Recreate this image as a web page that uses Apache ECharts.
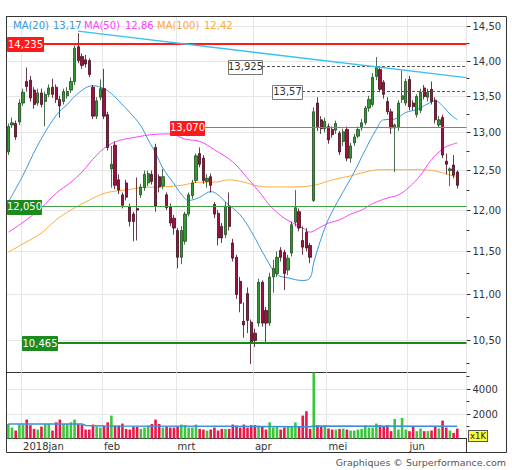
<!DOCTYPE html>
<html><head><meta charset="utf-8">
<script src="https://cdn.jsdelivr.net/npm/echarts@6/dist/echarts.min.js"></script>
<style>html,body{margin:0;padding:0;background:#fff}#c{width:512px;height:470px}</style>
</head><body><div id="c"></div>
<script>
// ---------- DATA ----------
const dates = [
'2017-12-22','2017-12-27','2017-12-28','2017-12-29',
'2018-01-02','2018-01-03','2018-01-04','2018-01-05','2018-01-08','2018-01-09','2018-01-10','2018-01-11','2018-01-12','2018-01-15','2018-01-16','2018-01-17','2018-01-18','2018-01-19','2018-01-22','2018-01-23','2018-01-24','2018-01-25','2018-01-26','2018-01-29','2018-01-30','2018-01-31',
'2018-02-01','2018-02-02','2018-02-05','2018-02-06','2018-02-07','2018-02-08','2018-02-09','2018-02-12','2018-02-13','2018-02-14','2018-02-15','2018-02-16','2018-02-19','2018-02-20','2018-02-21','2018-02-22','2018-02-23','2018-02-26','2018-02-27','2018-02-28',
'2018-03-01','2018-03-02','2018-03-05','2018-03-06','2018-03-07','2018-03-08','2018-03-09','2018-03-12','2018-03-13','2018-03-14','2018-03-15','2018-03-16','2018-03-19','2018-03-20','2018-03-21','2018-03-22','2018-03-23','2018-03-26','2018-03-27','2018-03-28','2018-03-29',
'2018-04-03','2018-04-04','2018-04-05','2018-04-06','2018-04-09','2018-04-10','2018-04-11','2018-04-12','2018-04-13','2018-04-16','2018-04-17','2018-04-18','2018-04-19','2018-04-20','2018-04-23','2018-04-24','2018-04-25','2018-04-26','2018-04-27','2018-04-30',
'2018-05-02','2018-05-03','2018-05-04','2018-05-07','2018-05-08','2018-05-09','2018-05-10','2018-05-11','2018-05-14','2018-05-15','2018-05-16','2018-05-17','2018-05-18','2018-05-21','2018-05-22','2018-05-23','2018-05-24','2018-05-25','2018-05-28','2018-05-29','2018-05-30','2018-05-31',
'2018-06-01','2018-06-04','2018-06-05','2018-06-06','2018-06-07','2018-06-08','2018-06-11','2018-06-12','2018-06-13','2018-06-14','2018-06-15','2018-06-18','2018-06-19','2018-06-20',
'pad1','pad2'];
const monthLabels = {'2018-01':'2018jan','2018-02':'feb','2018-03':'mrt','2018-04':'apr','2018-05':'mei','2018-06':'jun'};

const opens = [12.74,13.10,13.12,13.14,13.40,13.70,13.72,13.58,13.40,13.54,13.42,13.52,13.62,13.62,13.45,13.42,13.50,13.58,13.70,14.20,
14.06,14.01,14.00,13.62,13.22,13.48,13.60,13.24,12.52,12.83,12.38,12.19,12.34,12.04,11.95,12.02,12.19,12.28,12.34,12.45,
12.80,12.42,12.30,12.19,12.04,11.90,11.75,11.43,11.62,11.95,12.18,12.37,12.72,12.66,12.36,12.42,12.07,11.96,11.80,11.70,
12.05,11.60,11.43,11.15,10.70,11.01,10.69,10.57,10.68,11.14,10.82,10.68,11.20,11.24,11.51,11.49,11.28,11.48,11.85,11.98,
11.63,11.73,11.57,12.12,13.40,13.17,13.05,13.08,13.04,13.03,12.99,12.88,13.04,12.66,12.86,12.95,13.06,13.13,13.33,13.38,
13.77,13.87,13.69,13.42,13.28,13.06,13.08,13.45,13.40,13.73,13.40,13.24,13.30,13.61,13.48,13.59,13.44,13.10,13.20,12.62,
12.50,12.57,12.48];
const highs = [13.12,13.20,13.16,13.45,13.60,13.90,13.78,13.62,13.60,13.60,13.56,13.66,13.74,13.66,13.50,13.60,13.62,13.76,14.22,14.40,
14.10,14.08,14.03,13.65,13.48,13.73,13.88,13.28,12.82,12.88,12.45,12.22,12.38,12.08,11.98,12.41,12.33,12.50,12.50,12.50,
12.85,12.45,12.52,12.22,12.08,11.94,11.78,11.80,11.98,12.22,12.38,12.72,12.80,12.70,12.45,12.46,12.10,12.00,11.84,12.10,
12.22,11.65,11.46,11.20,10.91,11.08,10.72,10.62,11.18,11.16,10.86,11.25,11.40,11.50,11.55,11.52,11.46,11.86,12.25,12.02,
11.80,11.78,11.60,13.34,13.48,13.22,13.20,13.12,13.08,13.16,13.02,13.05,13.08,12.86,12.98,13.08,13.18,13.36,13.50,13.82,
14.05,13.92,13.72,13.48,13.32,13.12,13.44,13.86,13.74,13.78,13.44,13.52,13.60,13.65,13.60,13.70,13.48,13.22,13.24,12.72,
12.54,12.70,12.50];
const lows = [12.70,13.06,12.90,13.10,13.36,13.56,13.42,13.32,13.36,13.34,13.08,13.48,13.47,13.40,13.20,13.38,13.46,13.54,13.65,13.96,
13.88,13.90,13.76,13.18,13.18,13.44,13.18,12.76,12.28,12.26,12.20,12.02,12.12,11.80,11.62,11.63,12.15,12.24,12.30,12.32,
11.98,12.22,12.26,12.00,11.80,11.70,11.30,11.35,11.58,11.92,12.14,12.34,12.54,12.33,12.28,12.22,11.90,11.57,11.60,11.66,
11.75,11.38,10.95,10.80,10.52,10.57,10.24,10.42,10.64,10.64,10.47,10.65,11.02,11.20,11.38,11.05,11.22,11.44,11.80,11.74,
11.46,11.50,11.36,12.10,13.02,12.98,13.00,12.85,12.93,12.98,12.70,12.82,12.62,12.60,12.82,12.92,13.02,13.10,13.28,13.35,
13.72,13.55,13.46,13.24,12.98,12.48,13.02,13.40,13.36,13.30,13.30,13.20,13.26,13.45,13.42,13.38,13.12,13.06,12.66,12.45,
12.30,12.40,12.27];
const closes = [13.08,13.13,12.94,13.40,13.55,13.63,13.47,13.38,13.54,13.38,13.52,13.61,13.52,13.45,13.36,13.56,13.56,13.70,14.18,14.00,
13.93,13.95,13.80,13.22,13.43,13.60,13.22,12.80,12.58,12.31,12.25,12.06,12.16,11.86,11.86,12.00,12.29,12.45,12.46,12.36,
12.05,12.29,12.42,12.03,11.84,11.78,11.43,11.75,11.95,12.19,12.34,12.69,12.58,12.37,12.40,12.31,11.95,11.66,11.66,12.05,
11.80,11.42,11.00,10.90,10.66,10.71,10.46,10.49,11.14,10.68,10.68,11.20,11.30,11.43,11.43,11.24,11.42,11.82,12.03,11.78,
11.55,11.54,11.43,13.28,13.08,13.05,13.15,12.90,12.97,13.12,12.74,13.01,12.66,12.82,12.94,13.04,13.13,13.33,13.45,13.76,
13.90,13.59,13.52,13.28,13.06,13.10,13.40,13.50,13.70,13.35,13.35,13.49,13.55,13.49,13.55,13.42,13.17,13.17,12.70,12.58,
12.52,12.44,12.31];
const volumes = [1170,880,640,1120,1120,1520,1070,770,720,960,1170,1170,640,1300,1520,1170,1170,1300,1520,1170,
1120,720,720,1120,960,880,1040,1300,1840,1040,1040,1200,770,720,930,930,770,880,1040,1170,
1520,1170,880,960,880,880,960,1120,1070,880,880,1120,770,720,640,720,880,640,770,770,
770,1120,1040,880,1120,880,1070,1070,1040,990,720,1300,880,990,720,880,990,990,1300,990,
1840,2190,770,6500,1070,990,1040,800,720,720,770,800,720,640,640,720,770,1040,880,880,
1200,1070,990,1070,590,1570,720,1650,720,590,960,590,800,590,590,640,960,800,1440,880,
640,450,800];

const ma20 = [[0,12.10],[4,12.44],[8,12.83],[13,13.23],[16,13.38],[18,13.49],[21,13.61],[23,13.64],[26,13.60],[28,13.53],[30,13.43],[33,13.27],[36,13.09],[38,12.90],[40,12.73],[42,12.53],[45,12.33],[47,12.20],[49,12.12],[52,12.16],[55,12.23],[57,12.19],[59,12.10],[63,11.94],[66,11.74],[70,11.42],[73,11.23],[76,11.19],[80,11.16],[82,11.19],[83,11.37],[86,11.78],[88,11.98],[91,12.23],[94,12.48],[97,12.77],[100,13.04],[102,13.17],[105,13.18],[108,13.27],[111,13.31],[114,13.39],[116,13.43],[118,13.36],[120,13.25],[122,13.17]];
const ma50 = [[0,11.73],[4,11.85],[9,12.03],[13,12.21],[17,12.35],[20,12.48],[24,12.70],[27,12.82],[30,12.89],[35,12.94],[39,12.97],[44,12.98],[48,12.91],[52,12.88],[56,12.77],[61,12.61],[65,12.40],[69,12.18],[71,12.06],[75,11.90],[80,11.78],[82,11.73],[84,11.77],[87,11.84],[90,11.88],[93,11.95],[96,12.00],[99,12.08],[103,12.15],[106,12.19],[109,12.29],[112,12.44],[115,12.64],[118,12.78],[120,12.83],[122,12.86]];
const ma100 = [[0,11.49],[4,11.59],[9,11.72],[13,11.88],[17,12.00],[21,12.10],[25,12.19],[28,12.23],[32,12.25],[36,12.28],[42,12.29],[47,12.31],[52,12.35],[56,12.35],[60,12.38],[64,12.35],[68,12.30],[72,12.29],[78,12.29],[83,12.31],[86,12.35],[89,12.39],[93,12.43],[97,12.48],[101,12.51],[106,12.51],[111,12.51],[115,12.50],[118,12.47],[120,12.44],[122,12.42]];
const volMa = [[0,1170],[20,1170],[21,1040],[26,1000],[60,980],[82,950],[83,1000],[122,990]];
const trendLine = [[18.9,14.43],[124.5,13.755]];

const maNames = ['MA(20)','MA(50)','MA(100)'];
const maLast = ['13,17','12,86','12,42'];

const priceTicks = [10.5,11,11.5,12,12.5,13,13.5,14,14.5];
const priceTickLabels = ['10,50','11,00','11,50','12,00','12,50','13,00','13,50','14,00','14,50'];
const priceMinorTicks = [10.25,10.75,11.25,11.75,12.25,12.75,13.25,13.75,14.25];
const volTicks = [1000,2000,3000,4000,5000];
const volTickLabels = ['','2000','','4000',''];

const levelValues = [14.235,13.07,12.05,10.465,13.925,13.57];
const levelLabels = ['14,235','13,070','12,050','10,465','13,925','13,57'];

// ---------- STYLE / LAYOUT ----------
const FONT = 'DejaVu Sans';
const N = dates.length;
const UP = '#2f9a2f', DOWN = '#a3103c';
const VUP = '#3cc63c', VDOWN = '#e8184b';
const GRIDC = '#e6e6e6';
const levelStyles = [
  {line:'#ff1a1a', w:2, dash:null, box:0,   bw:36, bg:'#ff1a1a', border:null,   txt:'#fff', from:'left'},
  {line:'#ff4a4a', w:1, dash:null, box:163, bw:34, bg:'#ff1a1a', border:null,   txt:'#fff', from:'box'},
  {line:'#44a044', w:1, dash:null, box:0,   bw:34, bg:'#1c8a1c', border:null,   txt:'#fff', from:'left'},
  {line:'#148c14', w:2, dash:null, box:15,  bw:35, bg:'#1c8a1c', border:null,   txt:'#fff', from:'box'},
  {line:'#555',    w:1, dash:[3,2], box:221, bw:34, bg:'#fff',   border:'#777', txt:'#333', from:'box'},
  {line:'#555',    w:1, dash:[3,2], box:265, bw:30, bg:'#fff',   border:'#777', txt:'#333', from:'box'}
];

const ym = i => (dates[i] || '').slice(0,7);
const isMonthStart = i => i > 0 && !!monthLabels[ym(i)] && ym(i) !== ym(i-1);

const candleData = opens.map((o,i) => [o, closes[i], lows[i], highs[i]]);
const volData = volumes.map((v,i) => ({value:v, itemStyle:{color: closes[i] >= opens[i] ? VUP : VDOWN}}));

function txtStyle(o){
  if (o.align){ o.textAlign = o.align; }
  if (o.verticalAlign){ o.textVerticalAlign = o.verticalAlign; }
  return o;
}

function renderPriceTick(params, api){
  const v = api.value(1), major = api.value(2), li = api.value(3);
  const cs = params.coordSys;
  const y = Math.round(api.coord([0, v])[1]) + 0.5;
  const xr = Math.round(cs.x + cs.width) - 0.5;
  const ch = [{type:'line', shape:{x1:xr, y1:y, x2:xr + (major ? 4 : 3), y2:y}, style:{stroke:'#333', lineWidth:1}}];
  if (major) {
    ch.push({type:'line', shape:{x1:cs.x, y1:y, x2:xr, y2:y}, style:{stroke:GRIDC, lineWidth:1}});
    ch.push({type:'text', style:txtStyle({text:priceTickLabels[li], x:xr + 6, y:y, fill:'#333', fontSize:10, fontFamily:FONT, align:'left', verticalAlign:'middle'})});
  }
  return {type:'group', children:ch};
}

function renderVolTick(params, api){
  const v = api.value(1), li = api.value(2);
  const cs = params.coordSys;
  const y = Math.round(api.coord([0, v])[1]) + 0.5;
  const xr = Math.round(cs.x + cs.width) - 0.5;
  const lab = volTickLabels[li];
  const ch = [{type:'line', shape:{x1:xr, y1:y, x2:xr + (lab ? 4 : 3), y2:y}, style:{stroke:'#333', lineWidth:1}}];
  if (lab) {
    ch.push({type:'line', shape:{x1:cs.x, y1:y, x2:xr, y2:y}, style:{stroke:GRIDC, lineWidth:1}});
    ch.push({type:'text', style:txtStyle({text:lab, x:xr + 6, y:y, fill:'#333', fontSize:10, fontFamily:FONT, align:'left', verticalAlign:'middle'})});
  }
  return {type:'group', children:ch};
}

function renderLevel(params, api){
  const v = api.value(1), k = api.value(2);
  const st = levelStyles[k];
  const cs = params.coordSys;
  const y = Math.round(api.coord([0, v])[1]) + (st.w === 1 ? 0.5 : 0);
  const bx = Math.round(cs.x + st.box), bh = 14;
  const x0 = st.from === 'box' ? bx + st.bw : cs.x;
  return {type:'group', children:[
    {type:'line', shape:{x1:x0, y1:y, x2:cs.x + cs.width, y2:y}, style:{stroke:st.line, lineWidth:st.w, lineDash:st.dash}},
    {type:'rect', shape:{x:bx + 0.5, y:Math.round(y - bh/2) + 0.5, width:st.bw, height:bh}, style:{fill:st.bg, stroke:st.border || st.bg, lineWidth:1}},
    {type:'text', style:txtStyle({text:levelLabels[k], x:bx + st.bw/2 + 0.5, y:y, fill:st.txt, fontSize:10, fontFamily:FONT, align:'center', verticalAlign:'middle'})}
  ]};
}

const tickData = priceTicks.map((v,i) => [0, v, 1, i]).concat(priceMinorTicks.map(v => [0, v, 0, -1]));
const volTickData = volTicks.map((v,i) => [0, v, i]);
const levelData = levelValues.map((v,i) => [0, v, i]);

const legendX = [[13,53],[84,125],[157,204]];
const legendColors = ['#3399dd','#ff3cff','#ffa733'];
const graphics = [];
maNames.forEach((n,i) => {
  graphics.push({type:'text', x:legendX[i][0], y:25, style:txtStyle({text:n, fill:legendColors[i], font:'10px "DejaVu Sans"', verticalAlign:'middle'}), z:50});
  graphics.push({type:'text', x:legendX[i][1], y:25, style:txtStyle({text:maLast[i], fill:legendColors[i], font:'10px "DejaVu Sans"', verticalAlign:'middle'}), z:50});
});
graphics.push({type:'rect', shape:{x:6.5, y:16.5, width:500, height:436}, style:{fill:null, stroke:'#333', lineWidth:1}, silent:true, z:60});
graphics.push({type:'line', shape:{x1:466.5, y1:438, x2:466.5, y2:453}, style:{stroke:'#333', lineWidth:1}, z:60});
graphics.push({type:'text', x:469, y:436, style:txtStyle({text:'x1K', fill:'#222', font:'8.5px "DejaVu Sans"', backgroundColor:'#ffff33', borderColor:'#555', borderWidth:1, padding:[1,1,0,1], verticalAlign:'middle'}), z:60});
graphics.push({type:'text', x:506, y:462, style:txtStyle({text:'Graphiques © Surperformance.com', fill:'#555', font:'9.5px "DejaVu Sans"', align:'right', verticalAlign:'middle'}), z:60});

const option = {
  animation:false,
  backgroundColor:'#fff',
  textStyle:{fontFamily:FONT},
  grid:[
    {left:6.5, top:16.5, width:460, height:356, show:true, borderColor:'#333', borderWidth:1, backgroundColor:'#fff'},
    {left:6.5, top:372.5, width:460, height:66, show:true, borderColor:'#333', borderWidth:1, backgroundColor:'#fff'}
  ],
  xAxis:[
    {type:'category', gridIndex:0, data:dates, boundaryGap:true, axisLine:{show:false}, axisTick:{show:false}, axisLabel:{show:false},
     splitLine:{show:true, interval:(i) => isMonthStart(i), lineStyle:{color:GRIDC, width:1}}},
    {type:'value', gridIndex:0, min:-0.5, max:N-0.5, show:false, splitLine:{show:false}},
    {type:'category', gridIndex:1, data:dates, boundaryGap:true, axisLine:{show:false}, axisTick:{show:false},
     axisLabel:{show:true, interval:(i) => isMonthStart(i), formatter:(v) => monthLabels[v.slice(0,7)] || '', align:'left', margin:3, fontSize:10, fontFamily:FONT, color:'#333'},
     splitLine:{show:true, interval:(i) => isMonthStart(i), lineStyle:{color:GRIDC, width:1}}},
    {type:'value', gridIndex:1, min:-0.5, max:N-0.5, show:false, splitLine:{show:false}}
  ],
  yAxis:[
    {type:'log', logBase:10, gridIndex:0, min:10.15, max:14.65, position:'right', axisLine:{show:false}, axisTick:{show:false}, axisLabel:{show:false}, splitLine:{show:false}},
    {type:'value', gridIndex:1, min:0, max:5300, position:'right', axisLine:{show:false}, axisTick:{show:false}, axisLabel:{show:false}, splitLine:{show:false}, minorTick:{show:false}}
  ],
  graphic:graphics,
  series:[
    {type:'custom', name:'priceAxis', xAxisIndex:1, yAxisIndex:0, data:tickData, renderItem:renderPriceTick, clip:false, z:1, silent:true, encode:{x:0, y:1}},
    {type:'custom', name:'volAxis', xAxisIndex:3, yAxisIndex:1, data:volTickData, renderItem:renderVolTick, clip:false, z:1, silent:true, encode:{x:0, y:1}},
    {type:'line', name:'MA100', xAxisIndex:1, yAxisIndex:0, data:ma100, symbol:'none', smooth:0.4, lineStyle:{color:'#ffab3a', width:1}, z:3},
    {type:'line', name:'MA50', xAxisIndex:1, yAxisIndex:0, data:ma50, symbol:'none', smooth:0.4, lineStyle:{color:'#ff40ff', width:1}, z:3},
    {type:'line', name:'MA20', xAxisIndex:1, yAxisIndex:0, data:ma20, symbol:'none', smooth:0.4, lineStyle:{color:'#3a98e0', width:1}, z:3},
    {type:'candlestick', name:'koers', xAxisIndex:0, yAxisIndex:0, data:candleData, barWidth:2.7,
     itemStyle:{color:UP, color0:DOWN, borderColor:'#1f4a1f', borderColor0:'#3f0c1c', borderWidth:0.8}, z:4},
    {type:'custom', name:'levels', xAxisIndex:1, yAxisIndex:0, data:levelData, renderItem:renderLevel, clip:false, z:5, silent:true, encode:{x:0, y:1}},
    {type:'line', name:'trend', xAxisIndex:1, yAxisIndex:0, data:trendLine, symbol:'none', lineStyle:{color:'#38c0f0', width:1.3}, z:6},
    {type:'bar', name:'volume', xAxisIndex:2, yAxisIndex:1, data:volData, barWidth:2.6, z:3},
    {type:'line', name:'volMA', xAxisIndex:3, yAxisIndex:1, data:volMa, symbol:'none', lineStyle:{color:'#3a90dd', width:1.5}, z:4}
  ]
};
const chart = echarts.init(document.getElementById('c'), null, {renderer:'svg', width:512, height:470});
chart.setOption(option);
</script>
</body></html>
